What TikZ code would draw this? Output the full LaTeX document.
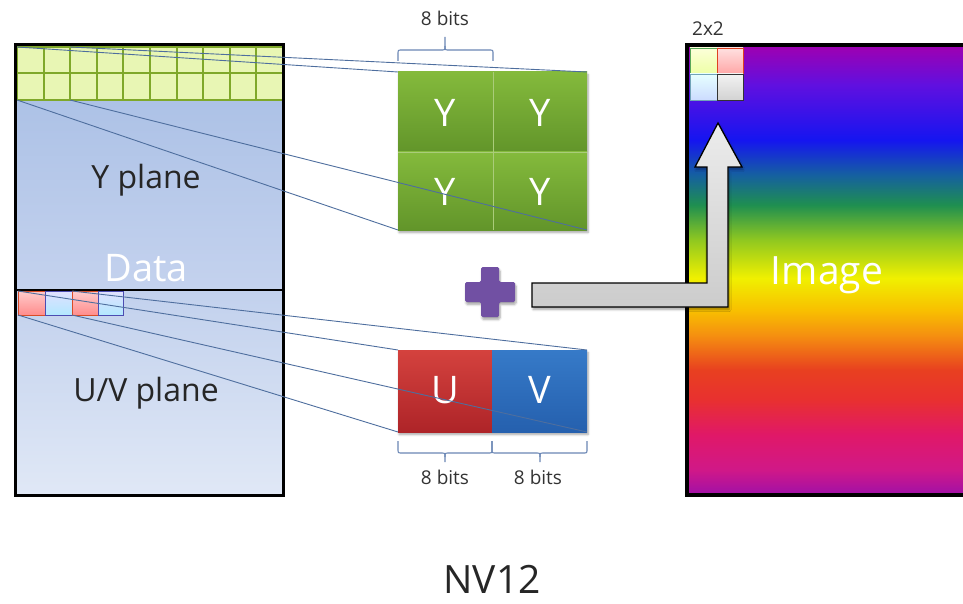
\documentclass[tikz,border=0pt]{standalone}
\usepackage{fontspec}
\setmainfont{Open Sans}
\usetikzlibrary{shadows,shadows.blur}
\definecolor{conncol}{HTML}{4E6E9E}
\definecolor{bracecol}{HTML}{6A86B4}
\definecolor{gridfill}{HTML}{E8F6B4}
\definecolor{gridborder}{HTML}{7FA82A}
\definecolor{yptop}{HTML}{A6BDE4}
\definecolor{ypbot}{HTML}{C4D2EE}
\definecolor{uvtop}{HTML}{C2D1ED}
\definecolor{uvbot}{HTML}{E0E8F6}
\definecolor{ytop}{HTML}{84BA3C}
\definecolor{ybot}{HTML}{62952A}
\definecolor{ydiv}{HTML}{AACC7A}
\definecolor{utop}{HTML}{D4423E}
\definecolor{ubot}{HTML}{AE2428}
\definecolor{vtop}{HTML}{367AC8}
\definecolor{vbot}{HTML}{2560AE}
\definecolor{pluscol}{HTML}{7150A3}
\definecolor{rb0}{HTML}{A010A8}
\definecolor{rb1}{HTML}{D01888}
\definecolor{rb2}{HTML}{E01868}
\definecolor{rb3}{HTML}{E83030}
\definecolor{rb4}{HTML}{E84020}
\definecolor{rb5}{HTML}{F59010}
\definecolor{rb6}{HTML}{F8C000}
\definecolor{rb7}{HTML}{F0F000}
\definecolor{rb8}{HTML}{90C820}
\definecolor{rb9}{HTML}{1F8F50}
\definecolor{rb10}{HTML}{1560A0}
\definecolor{rb11}{HTML}{1515F0}
\definecolor{rb12}{HTML}{6010E0}
\definecolor{rb13}{HTML}{A000B0}
\pgfdeclareverticalshading{rainbow}{100bp}{%
color(0bp)=(rb0); color(25bp)=(rb0); color(27.78bp)=(rb1); color(31.67bp)=(rb2);
color(35.56bp)=(rb3); color(38.89bp)=(rb4); color(42.78bp)=(rb5); color(45.56bp)=(rb6);
color(49.11bp)=(rb7); color(53.33bp)=(rb8); color(57.22bp)=(rb9); color(60.56bp)=(rb10);
color(64.44bp)=(rb11); color(70.56bp)=(rb12); color(75bp)=(rb13); color(100bp)=(rb13)}
\begin{document}
\begin{tikzpicture}[x=1pt,y=-1pt,
  conn/.style={draw=conncol, line width=0.9pt},
  bracket/.style={draw=bracecol, line width=1.1pt},
  gridcell/.style={draw=gridborder, line width=2pt, fill=gridfill},
  redcell/.style={top color=red!20, bottom color=red!45!white, draw=red!40!brown, line width=1pt},
  bluecell/.style={top color=blue!12, bottom color=blue!30!cyan!30, draw=blue!40!gray, line width=1pt},
  planelbl/.style={font=\fontsize{32}{38}\selectfont, text=black!85},
  bitlbl/.style={font=\fontsize{19}{22}\selectfont, text=black!80},
  letter/.style={font=\fontsize{38}{44}\selectfont, text=white},
  block/.style={inner sep=0pt, outer sep=0pt, anchor=north west},
  softshadow/.style={blur shadow={shadow xshift=1pt, shadow yshift=-2.5pt, shadow blur steps=6, shadow opacity=35}}
]
\useasboundingbox (0,0) rectangle (963,604);

% ---------------- left memory box ----------------
\shade[top color=yptop, bottom color=ypbot] (15,45) rectangle (283,290);
\shade[top color=uvtop, bottom color=uvbot] (15,290) rectangle (283,495);
\foreach \i in {0,...,9} \foreach \j in {0,1}
  \draw[gridcell] ({17+\i*26.6},{47+\j*26.5}) rectangle ++(26.6,26.5);
\shade[redcell] (18,291) rectangle ++(27,24);
\shade[bluecell] (45,291) rectangle ++(27,24);
\shade[redcell] (72,291) rectangle ++(26,24);
\shade[bluecell] (98,291) rectangle ++(25,24);
\draw[line width=1.5pt] (15,290) -- (283,290);
\draw[line width=3pt] (15,45) rectangle (283,495);
\node[planelbl] (yplane) at (146,180) {Y plane};
\node[planelbl] (uvplane) at (146,393) {U/V plane};
\node[font=\fontsize{38}{44}\selectfont, text=white] (data) at (146,268) {Data};

\coordinate (gtl) at (17,47);
\coordinate (gtr) at (70,47);
\coordinate (gbl) at (17,100);
\coordinate (gbr) at (70,100);
\coordinate (ctl) at (18,291);
\coordinate (ctr) at (72,291);
\coordinate (cbl) at (18,315);
\coordinate (cbr) at (72,315);

% ---------------- Y block ----------------
\node[block, minimum width=189pt, minimum height=158pt, softshadow, fill=white] (yblock) at (398,72) {};
\shade[top color=ytop, bottom color=ybot] (398,72) rectangle (493,152);
\shade[top color=ytop, bottom color=ybot] (493,72) rectangle (587,152);
\shade[top color=ytop, bottom color=ybot] (398,152) rectangle (493,230);
\shade[top color=ytop, bottom color=ybot] (493,152) rectangle (587,230);
\draw[ydiv, line width=0.9pt] (493,72) -- (493,230);
\draw[ydiv, line width=0.9pt] (398,152) -- (587,152);
\node[letter] (y1) at (445,113) {Y};
\node[letter] (y2) at (540,113) {Y};
\node[letter] (y3) at (445,192) {Y};
\node[letter] (y4) at (540,192) {Y};

% ---------------- U/V block ----------------
\node[block, minimum width=189pt, minimum height=82pt, softshadow, fill=white] (uvblock) at (398,350) {};
\shade[top color=utop, bottom color=ubot] (398,350) rectangle (492,432);
\shade[top color=vtop, bottom color=vbot] (492,350) rectangle (587,432);
\node[letter] (u) at (445,390) {U};
\node[letter] (v) at (540,390) {V};

% ---------------- connectors ----------------
\draw[conn] (gtl) -- (yblock.north west);
\draw[conn] (gtr) -- (yblock.north east);
\draw[conn] (gbl) -- (yblock.south west);
\draw[conn] (gbr) -- (yblock.south east);
\draw[conn] (ctl) -- (uvblock.north west);
\draw[conn] (ctr) -- (uvblock.north east);
\draw[conn] (cbl) -- (uvblock.south west);
\draw[conn] (cbr) -- (uvblock.south east);

% ---------------- brackets ----------------
\draw[bracket] (398,61) -- (398,54) .. controls (398,50) .. (402,50) -- (441,50)
  .. controls (445,50) .. (445,46) -- (445,37);
\draw[bracket] (445,46) .. controls (445,50) .. (449,50) -- (489,50)
  .. controls (493,50) .. (493,54) -- (493,61);
\node[bitlbl] (bits1) at (445,18) {8 bits};
\draw[bracket] (398,441) -- (398,449) .. controls (398,453) .. (402,453) -- (441,453)
  .. controls (445,453) .. (445,457) -- (445,462);
\draw[bracket] (445,457) .. controls (445,453) .. (449,453) -- (488,453)
  .. controls (492,453) .. (492,449) -- (492,441);
\draw[bracket] (492,441) -- (492,449) .. controls (492,453) .. (496,453) -- (536,453)
  .. controls (540,453) .. (540,457) -- (540,462);
\draw[bracket] (540,457) .. controls (540,453) .. (544,453) -- (583,453)
  .. controls (587,453) .. (587,449) -- (587,441);
\node[bitlbl] (bits2) at (445,477) {8 bits};
\node[bitlbl] (bits3) at (538,477) {8 bits};

% ---------------- plus ----------------
\fill[pluscol, rounded corners=1.5pt, softshadow]
  (481,267) -- (499,267) -- (499,282) -- (515,282) -- (515,302) -- (499,302)
  -- (499,317) -- (481,317) -- (481,302) -- (465,302) -- (465,282) -- (481,282) -- cycle;

% ---------------- image ----------------
\begin{scope}
\clip (0,0) rectangle (963,604);
\shade[shading=rainbow] (687,45) rectangle (975,495);
\draw[line width=3.5pt] (687,45) rectangle (975,495);
\end{scope}
\draw[draw=gray!70!green, line width=0.6pt, top color=green!8!yellow!15, bottom color=green!20!yellow!35] (690,48) rectangle (717,74);
\draw[draw=red!50!brown, line width=0.6pt, top color=red!12, bottom color=red!35] (717,48) rectangle (743,74);
\draw[draw=cyan!40!gray, line width=0.6pt, top color=cyan!10, bottom color=cyan!30!blue!20] (690,74) rectangle (717,100);
\draw[draw=black!80, line width=0.8pt, top color=gray!10, bottom color=gray!35] (717,74) rectangle (743,100);
\node[font=\fontsize{19}{22}\selectfont, text=black!80] (twobytwo) at (708,29) {2x2};

% ---------------- arrow ----------------
\draw[line width=1.3pt, top color=gray!15, bottom color=gray!40, softshadow]
  (532,283) -- (707,283) -- (707,167) -- (695,167) -- (718,123) -- (742,167)
  -- (728,167) -- (728,307) -- (532,307) -- cycle;

\node[font=\fontsize{39}{46}\selectfont, text=white] (imagelbl) at (827,275) {Image};

% ---------------- title ----------------
\node[font=\fontsize{39}{46}\selectfont, text=black!85, inner sep=0pt, anchor=base] (title) at (492,593) {NV12};
\end{tikzpicture}
\end{document}
